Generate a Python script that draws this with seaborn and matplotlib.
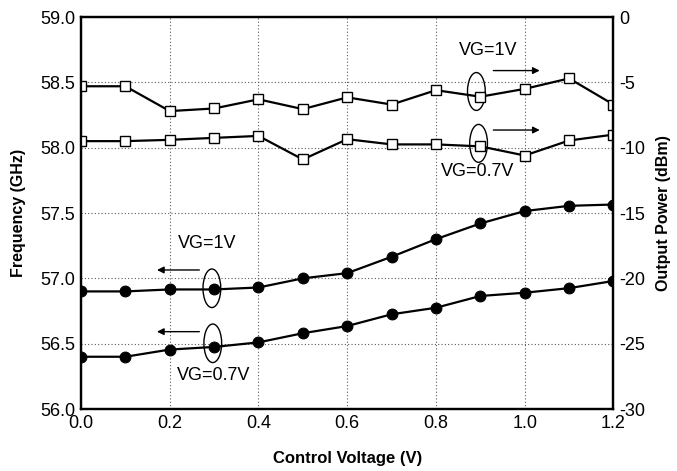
import numpy as np
import pandas as pd
import matplotlib
matplotlib.use("Agg")
import matplotlib.pyplot as plt
import seaborn as sns
from matplotlib.patches import Ellipse

# ---- data ----
control_voltage = [0.0, 0.1, 0.2, 0.3, 0.4, 0.5, 0.6, 0.7, 0.8, 0.9, 1.0, 1.1, 1.2]
freq_vg1 = [56.90, 56.90, 56.915, 56.915, 56.93, 57.00, 57.04, 57.165, 57.30, 57.42, 57.515, 57.555, 57.565]
freq_vg07 = [56.40, 56.40, 56.455, 56.475, 56.51, 56.58, 56.635, 56.725, 56.775, 56.865, 56.89, 56.925, 56.98]
power_vg1 = [-5.3, -5.3, -7.2, -7.0, -6.3, -7.05, -6.15, -6.7, -5.6, -6.1, -5.5, -4.7, -6.7]
power_vg07 = [-9.5, -9.5, -9.4, -9.25, -9.1, -10.9, -9.35, -9.75, -9.75, -9.9, -10.6, -9.45, -9.0]
freq_ticks = [56.0, 56.5, 57.0, 57.5, 58.0, 58.5, 59.0]
power_ticks = [-30, -25, -20, -15, -10, -5, 0]
x_ticks = [0.0, 0.2, 0.4, 0.6, 0.8, 1.0, 1.2]

sns.set_style("white")
plt.rcParams["font.family"] = ["Liberation Sans", "DejaVu Sans"]
plt.rcParams["axes.unicode_minus"] = False
plt.rcParams["text.color"] = "black"
plt.rcParams["axes.labelcolor"] = "black"
plt.rcParams["xtick.color"] = "black"
plt.rcParams["ytick.color"] = "black"

df_f = pd.DataFrame({"V": control_voltage * 2,
                     "f": freq_vg1 + freq_vg07,
                     "s": ["1V"] * 13 + ["0.7V"] * 13})
df_p = pd.DataFrame({"V": control_voltage * 2,
                     "p": power_vg1 + power_vg07,
                     "s": ["1V"] * 13 + ["0.7V"] * 13})

fig = plt.figure(figsize=(6.77, 4.71), dpi=100)
ax = fig.add_axes([0.1196, 0.1316, 0.7866, 0.8323])
ax2 = ax.twinx()

sns.lineplot(data=df_f, x="V", y="f", units="s", estimator=None, ax=ax,
             color="black", lw=1.6, marker="o", markersize=7.8,
             markerfacecolor="black", markeredgecolor="black", legend=False)
sns.lineplot(data=df_p, x="V", y="p", units="s", estimator=None, ax=ax2,
             color="black", lw=1.6, marker="s", markersize=7.5,
             markerfacecolor="white", markeredgecolor="black", markeredgewidth=1.0,
             legend=False)

ax.set_xlim(0, 1.2)
ax.set_ylim(56.0, 59.0)
ax2.set_ylim(-30, 0)
ax.set_xticks(x_ticks)
ax.set_xticklabels([f"{v:.1f}" for v in x_ticks])
ax.set_yticks(freq_ticks)
ax.set_yticklabels([f"{v:.1f}" for v in freq_ticks])
ax2.set_yticks(power_ticks)
ax2.set_yticklabels([str(v) for v in power_ticks])

ax.grid(True, linestyle=(0, (1, 2)), color="0.35", lw=0.8)
ax.set_axisbelow(True)

for a in (ax, ax2):
    a.tick_params(axis="both", length=0, labelsize=13, pad=4, colors="black")
    for sp in a.spines.values():
        sp.set_linewidth(1.6)
        sp.set_color("black")

ax.set_xlabel("Control Voltage (V)", fontsize=12, fontweight="bold", labelpad=14, color="black")
ax.set_ylabel("Frequency (GHz)", fontsize=11.5, fontweight="bold", labelpad=10, color="black")
ax2.set_ylabel("Output Power (dBm)", fontsize=11.5, fontweight="bold", labelpad=8, color="black")

# annotations - right axis (power)
ax2.text(0.917, -2.6, "VG=1V", ha="center", va="center", fontsize=13, color="black")
ax2.add_patch(Ellipse((0.891, -5.7), 0.040, 2.9, fill=False, lw=1.0, color="black"))
ax2.annotate("", xy=(1.040, -4.1), xytext=(0.923, -4.1),
             arrowprops=dict(arrowstyle="-|>", color="black", lw=1.0, mutation_scale=10))
ax2.add_patch(Ellipse((0.896, -9.67), 0.040, 2.9, fill=False, lw=1.0, color="black"))
ax2.annotate("", xy=(1.040, -8.65), xytext=(0.923, -8.65),
             arrowprops=dict(arrowstyle="-|>", color="black", lw=1.0, mutation_scale=10))
ax2.text(0.894, -11.84, "VG=0.7V", ha="center", va="center", fontsize=13, color="black")

# annotations - left axis (frequency)
ax.text(0.284, 57.268, "VG=1V", ha="center", va="center", fontsize=13, color="black")
ax.annotate("", xy=(0.165, 57.064), xytext=(0.273, 57.064),
            arrowprops=dict(arrowstyle="-|>", color="black", lw=1.0, mutation_scale=10))
ax.add_patch(Ellipse((0.295, 56.924), 0.040, 0.295, fill=False, lw=1.0, color="black"))
ax.annotate("", xy=(0.165, 56.592), xytext=(0.273, 56.592),
            arrowprops=dict(arrowstyle="-|>", color="black", lw=1.0, mutation_scale=10))
ax.add_patch(Ellipse((0.297, 56.503), 0.040, 0.295, fill=False, lw=1.0, color="black"))
ax.text(0.299, 56.26, "VG=0.7V", ha="center", va="center", fontsize=13, color="black")

fig.savefig("out.png", dpi=100)
